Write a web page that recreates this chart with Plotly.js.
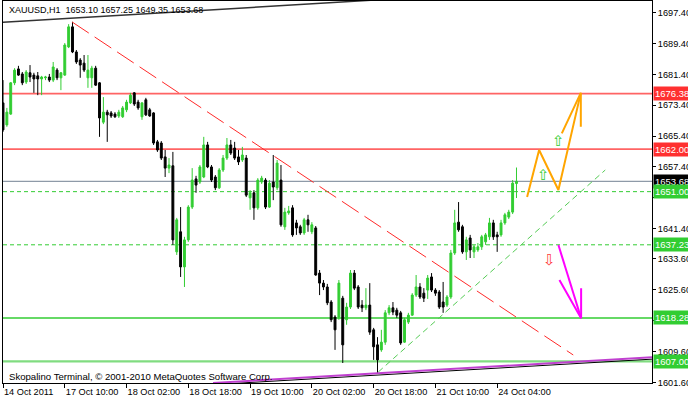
<!DOCTYPE html>
<html>
<head>
<meta charset="utf-8">
<script src="https://cdn.plot.ly/plotly-3.0.1.min.js"></script>
<style>html,body{margin:0;padding:0;background:#fff}#chart{width:688px;height:401px}</style>
</head>
<body>
<div id="chart"></div>
<script>
// ---- data (XAUUSD H1) ----
const opens = [
1674.0,1668.3,1671.1,1679.2,1682.8,1681.5,1679.4,1681.8,1681.2,1681.0,
1680.2,1680.5,1680.7,1679.9,1682.5,1680.5,1681.2,1688.5,1693.7,1687.2,
1685.1,1684.3,1680.5,1680.5,1683.0,1679.2,1669.0,1671.6,1671.4,1671.1,
1670.6,1670.4,1672.2,1674.0,1676.6,1674.2,1670.4,1674.8,1672.2,1671.4,
1663.9,1663.6,1660.0,1657.1,1657.7,1635.4,1640.6,1631.5,1638.5,1647.0,
1654.3,1653.5,1654.8,1663.1,1657.4,1654.8,1652.0,1656.6,1659.7,1663.1,
1662.3,1660.0,1659.2,1659.7,1649.4,1650.7,1646.8,1653.5,1654.0,1647.0,
1653.5,1652.0,1654.0,1641.9,1645.5,1646.8,1642.9,1641.9,1640.3,1643.7,
1640.6,1641.6,1629.9,1627.3,1626.3,1622.4,1618.5,1618.5,1623.4,1617.8,
1621.1,1629.9,1626.3,1621.6,1620.9,1621.6,1615.2,1611.3,1610.0,1612.0,
1619.6,1620.9,1620.3,1619.6,1612.0,1617.2,1619.0,1624.2,1626.3,1624.7,
1625.5,1628.9,1625.5,1625.0,1622.4,1621.6,1623.7,1635.1,1643.1,1641.9,
1635.4,1639.0,1635.4,1635.9,1636.7,1638.0,1639.3,1642.9,1639.8,1639.8,
1642.9,1644.4,1645.7,1653.10];
const highs = [
1679.9,1672.7,1679.4,1683.0,1683.6,1682.0,1682.5,1683.8,1681.8,1682.0,
1681.0,1681.0,1681.5,1684.6,1683.0,1682.0,1689.5,1694.4,1695.0,1687.7,
1685.6,1686.4,1686.4,1683.6,1683.6,1679.4,1675.5,1672.2,1671.9,1671.6,
1672.2,1673.2,1674.8,1676.6,1676.8,1674.8,1674.2,1675.3,1672.7,1671.6,
1664.4,1664.1,1661.8,1659.7,1661.3,1644.2,1647.0,1639.3,1647.5,1657.1,
1655.1,1657.9,1665.2,1663.9,1657.9,1655.3,1657.1,1660.5,1664.9,1664.4,
1663.9,1661.8,1662.6,1660.5,1651.4,1651.4,1654.5,1655.1,1654.5,1654.0,
1660.5,1659.2,1657.9,1646.8,1647.3,1647.5,1643.7,1642.4,1644.2,1645.0,
1643.1,1642.1,1630.7,1628.1,1627.1,1622.9,1619.0,1628.1,1624.0,1622.2,
1630.7,1630.7,1626.8,1622.9,1626.0,1627.3,1615.7,1613.3,1615.2,1620.3,
1621.6,1622.4,1620.9,1620.1,1618.3,1619.6,1624.7,1629.4,1627.3,1626.0,
1629.4,1629.9,1626.0,1625.5,1627.6,1624.2,1635.9,1646.3,1648.3,1642.4,
1639.3,1639.8,1637.2,1637.7,1639.8,1640.3,1644.2,1643.7,1640.6,1643.7,
1645.5,1646.3,1654.0,1657.25];
const lows = [
1666.5,1667.8,1670.9,1678.6,1681.0,1678.6,1678.9,1679.4,1676.6,1676.0,
1676.0,1679.9,1679.4,1679.4,1679.9,1677.3,1681.0,1688.2,1686.9,1684.1,
1680.5,1682.0,1677.9,1677.9,1678.4,1665.2,1668.5,1663.9,1670.1,1670.1,
1670.1,1670.1,1671.6,1673.7,1673.2,1672.2,1669.6,1670.6,1670.4,1663.1,
1661.3,1659.2,1654.8,1655.8,1637.2,1634.6,1628.9,1626.3,1638.0,1646.5,
1650.7,1653.0,1654.5,1657.1,1653.5,1651.4,1651.7,1656.1,1659.2,1660.5,
1659.2,1657.9,1658.7,1649.6,1646.3,1643.7,1646.3,1653.0,1646.5,1646.8,
1648.8,1651.4,1641.9,1641.1,1645.0,1639.3,1639.8,1639.8,1639.8,1640.6,
1640.0,1629.2,1624.2,1625.5,1621.6,1617.2,1610.0,1617.8,1606.6,1616.5,
1620.6,1625.5,1620.6,1619.8,1620.3,1613.9,1607.4,1604.0,1609.5,1611.3,
1619.0,1619.0,1618.3,1611.3,1611.8,1616.7,1618.8,1623.7,1623.2,1622.4,
1623.2,1625.0,1624.0,1620.6,1619.6,1621.1,1623.2,1634.6,1640.6,1634.9,
1633.3,1633.8,1633.8,1635.4,1635.9,1637.2,1638.5,1638.5,1635.4,1639.3,
1642.4,1643.9,1645.2,1649.35];
const closes = [
1667.0,1671.6,1679.2,1682.5,1681.2,1679.2,1682.0,1680.7,1680.2,1680.2,
1680.7,1680.7,1679.9,1683.3,1680.5,1681.8,1689.0,1693.7,1687.2,1684.6,
1683.8,1682.5,1682.5,1683.0,1678.6,1670.1,1671.6,1670.9,1670.6,1670.4,
1671.6,1672.7,1674.2,1676.0,1673.7,1672.7,1674.0,1670.9,1670.6,1663.6,
1661.8,1659.7,1657.1,1657.9,1638.5,1643.7,1631.5,1638.5,1647.0,1654.0,
1652.7,1657.4,1663.1,1657.4,1654.0,1652.0,1656.6,1659.7,1663.1,1661.0,
1659.7,1658.7,1660.5,1650.1,1650.7,1646.8,1654.0,1654.5,1647.0,1653.2,
1652.2,1658.4,1642.4,1645.7,1646.0,1639.8,1641.6,1640.3,1643.7,1642.4,
1642.4,1629.4,1627.3,1626.3,1622.2,1617.8,1615.2,1627.3,1611.3,1621.1,
1629.9,1626.0,1621.1,1620.9,1621.6,1614.6,1610.8,1607.4,1612.0,1619.6,
1620.9,1619.8,1619.0,1611.8,1617.8,1619.0,1624.2,1626.3,1623.7,1623.4,
1628.6,1625.5,1624.7,1621.1,1621.1,1623.7,1635.1,1642.9,1641.1,1635.4,
1638.5,1635.9,1636.7,1636.7,1639.3,1639.8,1642.9,1639.3,1639.3,1642.9,
1645.0,1645.7,1653.2,1653.68];

// time axis (bar index positions and labels)
const xTickBars = [0,16,32,48,64,80,96,112,128];
const xTickLabels = ["14 Oct 2011","17 Oct 10:00","18 Oct 02:00","18 Oct 18:00","19 Oct 10:00","20 Oct 02:00","20 Oct 18:00","21 Oct 10:00","24 Oct 04:00"];
// price axis (1617.60 and 1649.40 sit under the level boxes)
const yTickVals = [1601.6,1609.6,1617.6,1625.6,1633.6,1641.4,1649.4,1657.4,1665.4,1673.4,1681.4,1689.4,1697.4];
const yTickLabels = ["1601.60","1609.60","","1625.60","1633.60","1641.40","","1657.40","1665.40","1673.40","1681.40","1689.40","1697.40"];

// horizontal levels
const levelPrices = [1676.38, 1662.00, 1653.68, 1651.00, 1637.23, 1618.28, 1607.00];
const levelLabels = ["1676.38","1662.00","1653.68","1651.00","1637.23","1618.28","1607.00"];
const levelLineColors = ["#ff6464","#ff6464","#8e9aa8","#33cc33","#33cc33","#33cc33","#80dc80"];
const levelBoxColors = ["#ff3030","#ff3030","#000000","#32cd32","#32cd32","#32cd32","#32cd32"];
const levelDash = ["solid","solid","solid","4px,3px","4px,3px","solid","solid"];
const levelWidth = [1.8,1.8,1.2,1,1,1.5,2.2];

// drawn trend lines (bar index, price)
const topLineBars = [0, 97.7];
const topLinePrices = [1694.88, 1700.74];
const redTrendBars = [17.9, 147.7];
const redTrendPrices = [1694.96, 1608.68];
const greenTrendBars = [97.2, 156.0];
const greenTrendPrices = [1604.27, 1656.61];
const purpleBars = [54.4, 168.1];
const purplePrices = [1601.42, 1608.08];
const purpleShadowPrices = [1601.0, 1607.6];

// forecast arrows
const orangeBars = [135.75,138.86,143.86,149.66,null,144.74,149.66,149.66];
const orangePrices = [1649.62,1661.79,1651.43,1676.6,null,1666.1,1676.6,1667.83];
const magentaBars = [143.86,149.74,null,144.12,149.74,149.74];
const magentaPrices = [1637.18,1618.19,null,1628.11,1618.19,1625.96];
const markBars = [139.9, 143.8, 141.5];
const markPrices = [1655.3, 1664.0, 1633.3];
const markGlyphs = ["\u21E7","\u21E7","\u21E9"];
const markColors = ["#33cc33","#33cc33","#ff3a3a"];

const FONT = "Liberation Sans, Arial, sans-serif";
const barIdx = opens.map((_, i) => i);

const traces = [
  {type:'scatter', mode:'lines', x:purpleBars, y:purpleShadowPrices, line:{color:'#000', width:1}, hoverinfo:'skip'},
  {type:'scatter', mode:'lines', x:purpleBars, y:purplePrices, line:{color:'#c040d0', width:2}, hoverinfo:'skip'},
  {type:'scatter', mode:'lines', x:topLineBars, y:topLinePrices, line:{color:'#333', width:1.5}, hoverinfo:'skip'},
  {type:'scatter', mode:'lines', x:redTrendBars, y:redTrendPrices, line:{color:'#ff2a2a', width:1, dash:'20px,7px'}, hoverinfo:'skip'},
  {type:'scatter', mode:'lines', x:greenTrendBars, y:greenTrendPrices, line:{color:'#55cc55', width:1, dash:'6px,4px'}, hoverinfo:'skip'},
  {type:'candlestick', x:barIdx, open:opens, high:highs, low:lows, close:closes,
   increasing:{line:{color:'#32cd32', width:1}, fillcolor:'#32cd32'},
   decreasing:{line:{color:'#000000', width:1}, fillcolor:'#000000'},
   whiskerwidth:0, hoverinfo:'skip'},
  {type:'scatter', mode:'lines', x:orangeBars, y:orangePrices, line:{color:'#ffa500', width:2}, connectgaps:false, hoverinfo:'skip'},
  {type:'scatter', mode:'lines', x:magentaBars, y:magentaPrices, line:{color:'#ff00ff', width:2}, connectgaps:false, hoverinfo:'skip'}
];

const shapes = levelPrices.map((p, k) => ({
  type:'line', xref:'paper', x0:0, x1:1, yref:'y', y0:p, y1:p,
  line:{color:levelLineColors[k], width:levelWidth[k], dash:levelDash[k]}, layer:'below'
}));

const annotations = [];
levelPrices.forEach((p, k) => {
  annotations.push({xref:'paper', x:1, xanchor:'left', xshift:1, yref:'y', y:p, yanchor:'middle',
    text:levelLabels[k], showarrow:false, bgcolor:levelBoxColors[k], borderpad:1,
    font:{family:FONT, size:9.5, color:'#fff'}});
});
markGlyphs.forEach((g, k) => {
  annotations.push({xref:'x', x:markBars[k], yref:'y', y:markPrices[k], text:g, showarrow:false,
    font:{family:'DejaVu Sans', size:15, color:markColors[k]}});
});
annotations.push({xref:'paper', x:0.006, xanchor:'left', yref:'paper', y:0.976, yanchor:'middle',
  text:'XAUUSD,H1  1653.10 1657.25 1649.35 1653.68', showarrow:false, font:{family:FONT, size:9, color:'#000'}});
annotations.push({xref:'paper', x:0.006, xanchor:'left', yref:'paper', y:0.016, yanchor:'middle',
  text:'Skopalino Terminal, \u00A9 2001-2010 MetaQuotes Software Corp.', showarrow:false, font:{family:FONT, size:9.6, color:'#000'}});

const layout = {
  width:688, height:401,
  margin:{l:3, r:36, t:1, b:18, pad:0},
  paper_bgcolor:'#fff', plot_bgcolor:'#fff',
  showlegend:false,
  xaxis:{range:[0,168.1], tickvals:xTickBars, ticktext:xTickLabels, ticks:'outside', ticklen:4, tickcolor:'#000',
    tickangle:0, showgrid:false, zeroline:false, showline:true, linecolor:'#000', linewidth:1, mirror:true,
    rangeslider:{visible:false}, ticklabelposition:'outside right',
    tickfont:{family:FONT, size:9.2, color:'#000'}, fixedrange:true},
  yaxis:{side:'right', range:[1601.42,1700.4], tickvals:yTickVals, ticktext:yTickLabels, ticks:'outside', ticklen:3,
    tickcolor:'#000', showgrid:false, zeroline:false, showline:true, linecolor:'#000', linewidth:1, mirror:true,
    tickfont:{family:FONT, size:9.2, color:'#000'}, fixedrange:true},
  shapes:shapes,
  annotations:annotations
};

Plotly.newPlot('chart', traces, layout, {staticPlot:true, displayModeBar:false});
</script>
</body>
</html>
